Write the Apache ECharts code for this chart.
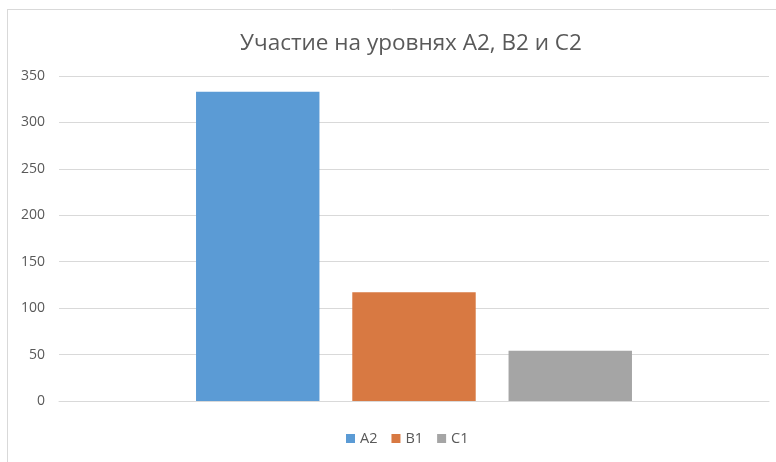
<!DOCTYPE html>
<html>
<head>
<meta charset="utf-8">
<script src="https://cdn.jsdelivr.net/npm/echarts@6/dist/echarts.min.js"></script>
<style>
html,body{margin:0;padding:0;background:#fff;}
#main{width:776px;height:462px;}
</style>
</head>
<body>
<div id="main"></div>
<script>
// данные
var categories = [''];
var seriesNames = ['A2', 'B1', 'C1'];
var valuesA2 = [333];
var valuesB1 = [117];
var valuesC1 = [54];
var colors = ['#5B9BD5', '#D87942', '#A5A5A5'];

var chart = echarts.init(document.getElementById('main'));
var txt = '#595959';
var font = 'Open Sans, Liberation Sans, sans-serif';

function mk(name, data, idx){
	return {
		name: name,
		type: 'bar',
		data: data,
		barGap: '26.6%',
		barCategoryGap: '38.6%',
		itemStyle: {color: colors[idx]},
		emphasis: {disabled: true}
	};
}

var option = {
	animation: false,
	color: colors,
	title: {
		text: 'Участие на уровнях А2, В2 и С2',
		left: 406,
		textAlign: 'center',
		top: 27,
		textStyle: {color: txt, fontSize: 22.5, fontWeight: 'normal', fontFamily: font}
	},
	legend: {
		bottom: 11,
		left: 341,
		itemWidth: 9,
		itemHeight: 9,
		itemGap: 14,
		icon: 'rect',
		textStyle: {color: txt, fontSize: 14.5, fontFamily: font},
		data: seriesNames
	},
	grid: {left: 59, right: 7, top: 76, bottom: 61},
	xAxis: {
		type: 'category',
		data: categories,
		axisLine: {lineStyle: {color: '#D9D9D9', width: 1}},
		axisTick: {show: false},
		axisLabel: {show: false}
	},
	yAxis: {
		type: 'value',
		min: 0,
		max: 350,
		interval: 50,
		axisLine: {show: false},
		axisTick: {show: false},
		axisLabel: {color: txt, fontSize: 14, fontFamily: font, margin: 14},
		splitLine: {lineStyle: {color: '#D9D9D9', width: 1}}
	},
	graphic: [
		{type: 'line', shape: {x1: 7.5, y1: 9, x2: 7.5, y2: 462}, style: {stroke: '#D9D9D9', lineWidth: 1}},
		{type: 'line', shape: {x1: 7, y1: 9.5, x2: 776, y2: 9.5}, style: {stroke: '#D9D9D9', lineWidth: 1}}
	],
	series: [
		mk(seriesNames[0], valuesA2, 0),
		mk(seriesNames[1], valuesB1, 1),
		mk(seriesNames[2], valuesC1, 2)
	]
};
chart.setOption(option);
</script>
</body>
</html>
